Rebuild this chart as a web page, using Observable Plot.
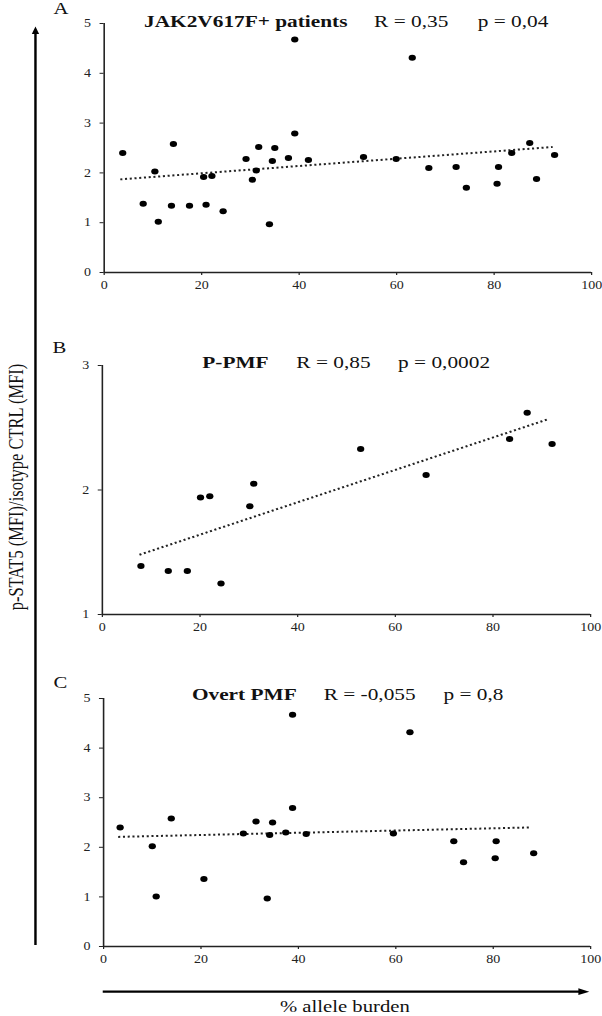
<!DOCTYPE html>
<html><head><meta charset="utf-8">
<script src="https://cdn.jsdelivr.net/npm/d3@7"></script>
<script src="https://cdn.jsdelivr.net/npm/@observablehq/plot@0.6"></script>
<style>
body{margin:0;background:#fff;}
#fig{position:relative;width:494px;height:1016px;transform:scaleX(1.2186);transform-origin:0 0;font-family:"Liberation Serif",serif;}
#fig > svg{position:absolute;left:0;}
</style></head><body><div id="fig"></div>
<script>
// ---- data ----
const xA = [3.8, 8.0, 10.4, 11.1, 13.8, 14.2, 17.5, 20.4, 20.9, 22.1, 24.4, 29.1, 30.4, 31.2, 31.7, 33.9, 34.5, 35.0, 37.8, 39.1, 39.1, 41.9, 53.2, 59.9, 63.2, 66.6, 72.2, 74.3, 80.6, 80.9, 83.6, 87.3, 88.7, 92.4];
const yA = [2.40, 1.38, 2.03, 1.02, 1.34, 2.58, 1.34, 1.92, 1.36, 1.94, 1.23, 2.28, 1.86, 2.05, 2.52, 0.97, 2.24, 2.50, 2.30, 4.68, 2.79, 2.26, 2.32, 2.28, 4.31, 2.10, 2.12, 1.70, 1.78, 2.12, 2.40, 2.60, 1.88, 2.36];
const trendAx = [3.3, 92.0], trendAy = [1.87, 2.52];

const xB = [7.9, 13.5, 17.4, 20.1, 22.0, 24.3, 30.2, 31.0, 52.9, 66.3, 83.4, 87.0, 92.1];
const yB = [1.39, 1.35, 1.35, 1.94, 1.95, 1.25, 1.87, 2.05, 2.33, 2.12, 2.41, 2.62, 2.37];
const trendBx = [7.6, 91.4], trendBy = [1.48, 2.57];

const xC = [3.4, 10.0, 10.8, 13.9, 20.6, 28.7, 31.3, 34.1, 33.6, 34.7, 37.4, 38.8, 38.8, 41.6, 59.5, 62.9, 71.9, 73.9, 80.4, 80.6, 88.3];
const yC = [2.40, 2.02, 1.01, 2.58, 1.36, 2.28, 2.52, 2.25, 0.97, 2.50, 2.30, 4.67, 2.79, 2.27, 2.28, 4.32, 2.12, 1.70, 1.78, 2.12, 1.88];
const trendCx = [3.0, 87.6], trendCy = [2.21, 2.40];

const xTicks = [0, 20, 40, 60, 80, 100];
const yTicksAC = [0, 1, 2, 3, 4, 5];
const yTicksB = [1, 2, 3];
const domainAC = [0, 5], domainB = [1, 3];

const titleA = ["JAK2V617F+ patients", "R = 0,35", "p = 0,04"];
const titleB = ["P-PMF", "R = 0,85", "p = 0,0002"];
const titleC = ["Overt PMF", "R = -0,055", "p = 0,8"];
const letters = ["A", "B", "C"];
const yLabel = "p-STAT5 (MFI)/isotype CTRL (MFI)";
const xLabel = "% allele burden";

// ---- layout (unstretched units) ----
const W = 494;
const fig = document.getElementById("fig");
const ink = "#222";

function panel(xs, ys, tx, ty, yDomain, yTicks, L) {
  const pts = xs.map((x, i) => ({x, y: ys[i]}));
  const trend = tx.map((x, i) => ({x, y: ty[i]}));
  const svg = Plot.plot({
    width: W, height: L.height,
    marginTop: L.mt, marginBottom: L.mb, marginLeft: L.ml, marginRight: L.mr,
    style: {fontFamily: '"Liberation Serif", serif', fontSize: "11.5px", color: ink, background: "transparent", overflow: "visible"},
    x: {domain: [0, 100], ticks: xTicks, tickFormat: d => String(d), tickSize: 3, tickPadding: 5, label: null},
    y: {domain: yDomain, ticks: yTicks, tickFormat: d => String(d), tickSize: 3.3, tickPadding: 7.5, label: null},
    marks: [
      Plot.ruleY([yDomain[0]], {stroke: ink, strokeWidth: 1.3}),
      Plot.ruleX([0], {stroke: ink, strokeWidth: 1.3}),
      Plot.line(trend, {x: "x", y: "y", stroke: ink, strokeWidth: 2, strokeLinecap: "butt", strokeDasharray: "1.7,2.2"}),
      Plot.dot(pts, {x: "x", y: "y", r: 3, fill: "#000", stroke: null})
    ]
  });
  svg.style.top = L.top + "px";
  fig.appendChild(svg);
}

panel(xA, yA, trendAx, trendAy, domainAC, yTicksAC, {top: 0, height: 300, mt: 23, mb: 28, ml: 85, mr: 9});
panel(xB, yB, trendBx, trendBy, domainB, yTicksB, {top: 330, height: 312, mt: 35, mb: 28, ml: 83.5, mr: 9.8});
panel(xC, yC, trendCx, trendCy, domainAC, yTicksAC, {top: 650, height: 324, mt: 48, mb: 28, ml: 84.5, mr: 9.8});

// ---- overlay: titles, panel letters, axis arrows and labels ----
const ov = d3.create("svg").attr("width", W).attr("height", 1016)
  .style("top", "0px").style("pointer-events", "none")
  .attr("font-family", '"Liberation Serif", serif');

const titleLayout = [
  {parts: titleA, xs: [118.2, 307, 392], y: 27},
  {parts: titleB, xs: [166, 243.2, 326.7], y: 368},
  {parts: titleC, xs: [157.5, 265.6, 363.9], y: 700}
];
titleLayout.forEach(t => {
  t.parts.forEach((s, i) => {
    ov.append("text").attr("x", t.xs[i]).attr("y", t.y)
      .attr("font-size", 17.5).attr("font-weight", i === 0 ? "bold" : "normal")
      .attr("fill", "#111").text(s);
  });
});

const letterLayout = [{x: 50, y: 14}, {x: 48.8, y: 353}, {x: 49.6, y: 688}];
letters.forEach((s, i) => {
  ov.append("text").attr("x", letterLayout[i].x).attr("y", letterLayout[i].y)
    .attr("text-anchor", "middle").attr("font-size", 17).attr("fill", "#111").text(s);
});

// vertical arrow
const vx = 29.1;
ov.append("line").attr("x1", vx).attr("x2", vx).attr("y1", 32).attr("y2", 945)
  .attr("stroke", "#000").attr("stroke-width", 2);
ov.append("path").attr("d", `M${vx},26.5 L${vx - 3},34 L${vx + 3},34 Z`).attr("fill", "#000");
// horizontal arrow
const hy = 991.7;
ov.append("line").attr("x1", 84.3).attr("x2", 476).attr("y1", hy).attr("y2", hy)
  .attr("stroke", "#000").attr("stroke-width", 2.3);
ov.append("path").attr("d", `M483.6,${hy} L474.6,${hy - 3.4} L474.6,${hy + 3.4} Z`).attr("fill", "#000");

ov.append("text").attr("transform", "translate(18.9,487) rotate(-90)")
  .attr("text-anchor", "middle").attr("font-size", 16.5).attr("fill", "#111").text(yLabel);
ov.append("text").attr("x", 283).attr("y", 1012)
  .attr("text-anchor", "middle").attr("font-size", 17).attr("fill", "#111").text(xLabel);

fig.appendChild(ov.node());
</script>
</body></html>
